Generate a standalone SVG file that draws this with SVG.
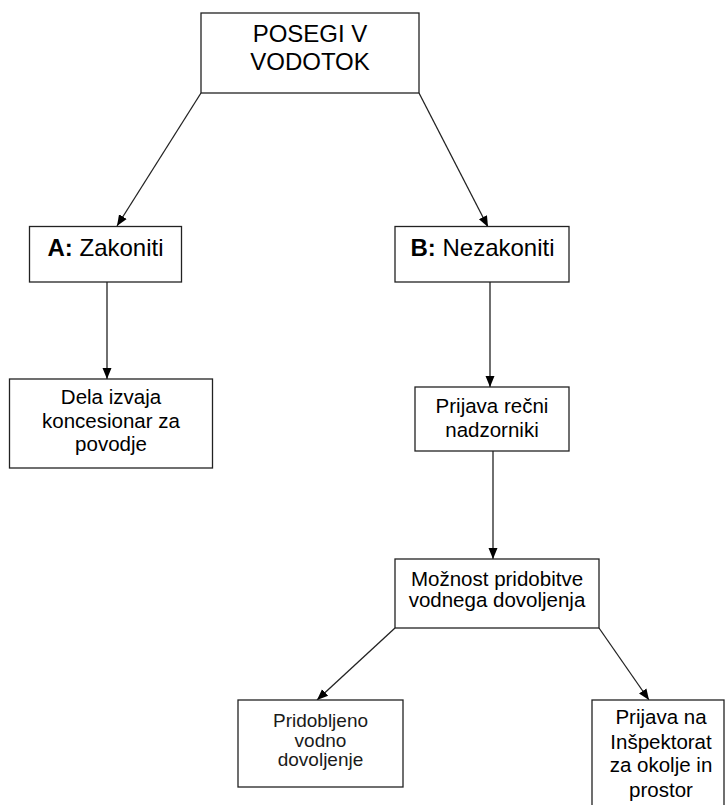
<svg xmlns="http://www.w3.org/2000/svg" width="725" height="805" viewBox="0 0 725 805">
<style>
.box{fill:#fff;stroke:#222;stroke-width:1.3}
.t{font-family:"Liberation Sans",Arial,sans-serif;fill:#000;text-anchor:middle}
.big{font-size:24px}
.mid{font-size:20.5px}
.sm{font-size:19px;fill:#1a1a1a}
.edge{stroke:#222;stroke-width:1.3;fill:none;marker-end:url(#ah)}
</style>
<defs>
<marker id="ah" markerUnits="userSpaceOnUse" markerWidth="12" markerHeight="12" viewBox="0 0 12 12" refX="11" refY="6" orient="auto">
<path d="M0,1.5 L11,6 L0,10.5 Z" fill="#000"/>
</marker>
</defs>
<rect width="725" height="805" fill="#fff"/>
<g id="connectors">
<line class="edge" x1="201" y1="93" x2="117" y2="226"/>
<line class="edge" x1="419" y1="93" x2="488" y2="227"/>
<line class="edge" x1="107" y1="282" x2="107" y2="379"/>
<line class="edge" x1="490" y1="282" x2="490" y2="387"/>
<line class="edge" x1="493" y1="451" x2="493" y2="559"/>
<line class="edge" x1="395" y1="628" x2="317" y2="700"/>
<line class="edge" x1="599" y1="628" x2="649" y2="700"/>
</g>
<g id="root">
<rect class="box" x="201" y="13" width="218" height="80"/>
<text class="t big" x="310" y="42">POSEGI V</text>
<text class="t big" x="310" y="70">VODOTOK</text>
</g>
<g id="nodeA">
<rect class="box" x="29.5" y="226.5" width="152" height="55.5"/>
<text class="t big" x="105.5" y="256"><tspan font-weight="bold">A:</tspan> Zakoniti</text>
</g>
<g id="nodeB">
<rect class="box" x="395" y="226.5" width="174" height="55.5"/>
<text class="t big" x="482.5" y="256"><tspan font-weight="bold">B:</tspan> Nezakoniti</text>
</g>
<g id="dela">
<rect class="box" x="9.5" y="379" width="203" height="89"/>
<text class="t mid" x="111" y="404">Dela izvaja</text>
<text class="t mid" x="111" y="427.5">koncesionar za</text>
<text class="t mid" x="111" y="451">povodje</text>
</g>
<g id="prijava">
<rect class="box" x="415" y="387" width="154" height="64"/>
<text class="t mid" x="492" y="413">Prijava rečni</text>
<text class="t mid" x="492" y="437">nadzorniki</text>
</g>
<g id="moznost">
<rect class="box" x="395" y="559" width="204" height="69"/>
<text class="t mid" x="497" y="585.5">Možnost pridobitve</text>
<text class="t mid" x="497" y="607">vodnega dovoljenja</text>
</g>
<g id="pridobljeno">
<rect class="box" x="238" y="700" width="165" height="87"/>
<text class="t sm" x="320.5" y="726.5">Pridobljeno</text>
<text class="t sm" x="320.5" y="746.5">vodno</text>
<text class="t sm" x="320.5" y="766">dovoljenje</text>
</g>
<g id="inspektorat">
<rect class="box" x="592" y="700" width="132" height="120"/>
<text class="t mid" x="661" y="724">Prijava na</text>
<text class="t mid" x="661" y="748.5">Inšpektorat</text>
<text class="t mid" x="661" y="772">za okolje in</text>
<text class="t mid" x="661" y="796.5">prostor</text>
</g>
</svg>
